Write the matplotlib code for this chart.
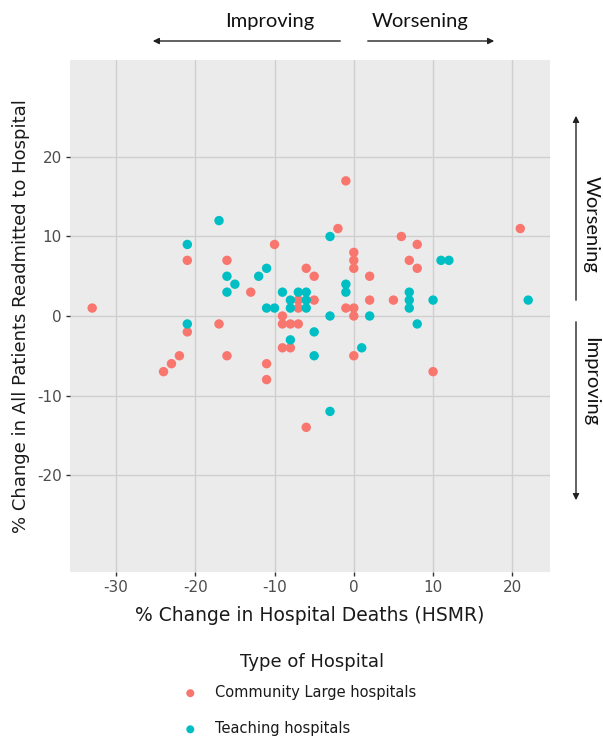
import matplotlib
matplotlib.use("Agg")
import matplotlib.pyplot as plt

plt.rcParams['font.family'] = ['DejaVu Sans']
plt.rcParams['axes.unicode_minus'] = False

# % change in HSMR (x) vs % change in readmissions (y)
community_x = [-33, -24, -23, -22, -21, -21, -17, -16, -16, -13, -11, -11, -10, -9, -9, -9,
               -8, -8, -7, -7, -7, -6, -6, -5, -5, -2, -1, -1, 0, 0, 0, 0, 0, 0,
               2, 2, 5, 6, 7, 8, 8, 10, 21]
community_y = [1, -7, -6, -5, 7, -2, -1, 7, -5, 3, -6, -8, 9, 0, -1, -4,
               -1, -4, 2, 1, -1, 6, -14, 5, 2, 11, 17, 1, 8, 7, 6, 1, 0, -5,
               5, 2, 2, 10, 7, 9, 6, -7, 11]

teaching_x = [-21, -21, -17, -16, -16, -15, -12, -11, -11, -10, -9, -8, -8, -8, -7, -6, -6, -6,
              -5, -5, -3, -3, -3, -1, -1, 1, 2, 7, 7, 7, 8, 10, 11, 12, 22]
teaching_y = [9, -1, 12, 5, 3, 4, 5, 6, 1, 1, 3, 2, 1, -3, 3, 3, 2, 1,
              -2, -5, 10, 0, -12, 4, 3, -4, 0, 3, 2, 1, -1, 2, 7, 7, 2]

x_ticks = [-30, -20, -10, 0, 10, 20]
y_ticks = [-20, -10, 0, 10, 20]

W, H = 603, 736
fig = plt.figure(figsize=(W / 100, H / 100), dpi=100)
ax = fig.add_axes([70 / W, 1 - 572 / H, 480 / W, 512 / H])
ax.set_facecolor('#EBEBEB')
for s in ax.spines.values():
    s.set_visible(False)
ax.grid(True, color='#CFCFCF', lw=1.0)
ax.set_axisbelow(True)

ax.scatter(community_x, community_y, s=46, color='#F8766D', edgecolors='none',
           label='Community Large hospitals', zorder=3)
ax.scatter(teaching_x, teaching_y, s=46, color='#00BFC4', edgecolors='none',
           label='Teaching hospitals', zorder=3)

ax.set_xlim(-35.8, 24.75)
ax.set_ylim(-32.2, 32.2)
ax.set_xticks(x_ticks)
ax.set_yticks(y_ticks)
ax.tick_params(length=3, width=1, color='#333333', labelcolor='#4D4D4D', labelsize=11, pad=3)

ax.set_xlabel('% Change in Hospital Deaths (HSMR)', fontsize=13.5, color='#1a1a1a', labelpad=8)
ax.set_ylabel('% Change in All Patients Readmitted to Hospital', fontsize=13, color='#1a1a1a', labelpad=5)


def fp(px, py):
    return (px / W, 1 - py / H)


# legend: title placed separately, entries left-aligned below it
fig.text(*fp(312, 662), 'Type of Hospital', ha='center', va='center', fontsize=13, color='#1a1a1a')
leg = fig.legend(loc='upper left', bbox_to_anchor=fp(183, 685), frameon=False,
                 fontsize=10.5, labelspacing=1.45, handlelength=1.0, handletextpad=1.2,
                 borderpad=0, borderaxespad=0, markerscale=0.85)
for t in leg.get_texts():
    t.set_color('#1a1a1a')

arrow_style = dict(arrowstyle='-|>', color='#222222', lw=1.0, mutation_scale=9)
font_arrow = dict(family='Lato', fontsize=14.5, color='#111111')

# top arrows
ax.annotate('', xy=fp(150, 41), xytext=fp(343, 41), xycoords='figure fraction',
            textcoords='figure fraction', arrowprops=arrow_style)
ax.annotate('', xy=fp(497, 41), xytext=fp(365, 41), xycoords='figure fraction',
            textcoords='figure fraction', arrowprops=arrow_style)
fig.text(*fp(270, 22), 'Improving', ha='center', va='center', **font_arrow)
fig.text(*fp(420, 22), 'Worsening', ha='center', va='center', **font_arrow)

# right arrows
ax.annotate('', xy=fp(576, 113), xytext=fp(576, 303), xycoords='figure fraction',
            textcoords='figure fraction', arrowprops=arrow_style)
ax.annotate('', xy=fp(576, 503), xytext=fp(576, 319), xycoords='figure fraction',
            textcoords='figure fraction', arrowprops=arrow_style)
fig.text(*fp(591, 224), 'Worsening', ha='center', va='center', rotation=-90, **font_arrow)
fig.text(*fp(591, 382), 'Improving', ha='center', va='center', rotation=-90, **font_arrow)

fig.savefig('out.png', dpi=100)
